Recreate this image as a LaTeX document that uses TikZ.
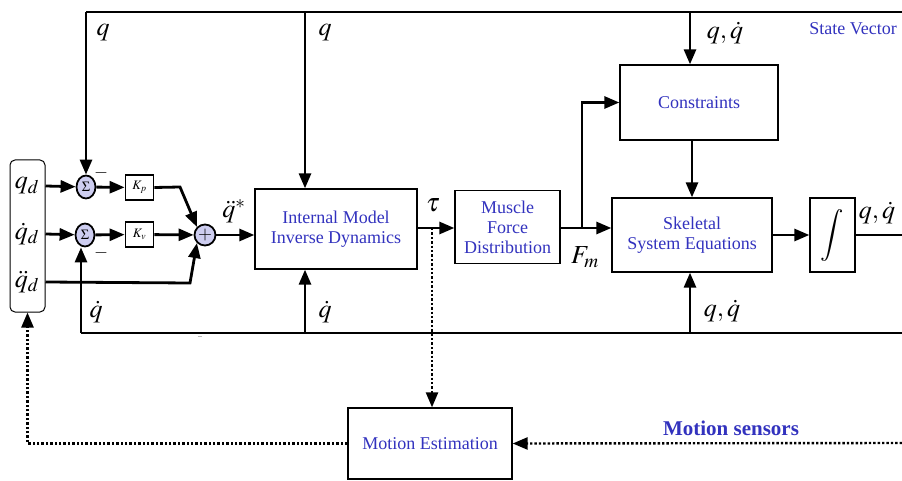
\documentclass[tikz,border=0pt]{standalone}
\usepackage{mathptmx}
\usepackage{fontspec}
\setmainfont{Liberation Serif}
\usetikzlibrary{arrows.meta, shapes.geometric, positioning, calc}
\definecolor{myblue}{RGB}{50,50,190}
\definecolor{mysum}{RGB}{205,205,240}

\begin{document}
\begin{tikzpicture}[x=1pt, y=-1pt, >={Triangle[length=15pt,width=12pt]},
  blk/.style={draw, line width=1.3pt, align=center, text=myblue, inner sep=0pt, font=\fontsize{18}{20}\selectfont},
  sumnode/.style={draw, ellipse, fill=mysum, line width=1.8pt, minimum width=19pt, minimum height=23pt, inner sep=0pt, font=\fontsize{14}{14}\selectfont},
  gain/.style={draw, line width=1.8pt, minimum width=28pt, minimum height=25pt, inner sep=0pt, font=\fontsize{13}{13}\selectfont},
  sig/.style={line width=2.8pt},
  est/.style={line width=2.4pt, dotted},
  lbl/.style={font=\fontsize{26}{28}\selectfont},
  minus/.style={font=\fontsize{18}{18}\selectfont}]
\useasboundingbox (0,0) rectangle (902,481);

% desired trajectory
\node[draw, line width=1pt, rounded corners=5pt, minimum width=35pt, minimum height=152pt] (des) at (27.5,236) {};
\node[lbl] (qd) at (27,186) {$q_d$};
\node[lbl] (qdd) at (27,234) {$\dot q_d$};
\node[lbl] (qddd) at (27,282) {$\ddot q_d$};

% PD controller
\node[sumnode] (s1) at (86,187) {$\Sigma$};
\node[sumnode] (s2) at (85,235) {$\Sigma$};
\node[gain] (kp) at (139.5,187.5) {$K_p$};
\node[gain] (kv) at (139.5,234.5) {$K_v$};
\node[draw, circle, fill=mysum, line width=1.8pt, minimum size=21pt, inner sep=0pt, font=\fontsize{18}{18}\selectfont] (plus) at (205,235) {$+$};

% blocks
\node[blk, minimum width=162pt, minimum height=80pt] (imid) at (336,229) {Internal Model\\Inverse Dynamics};
\node[blk, minimum width=105pt, minimum height=73pt] (mfd) at (507.5,227) {Muscle\\Force\\Distribution};
\node[blk, minimum width=158pt, minimum height=75pt] (cons) at (699,102.5) {Constraints};
\node[blk, minimum width=160pt, minimum height=74pt] (skel) at (692,235) {Skeletal\\System Equations};
\node[blk, text=black, minimum width=45pt, minimum height=74pt, font=\fontsize{26}{28}\selectfont] (integ) at (832.5,235) {$\displaystyle\int$};
\node[blk, minimum width=164pt, minimum height=71pt] (mest) at (430,443.5) {Motion Estimation};

% branch points
\coordinate (t1) at (86,12);
\coordinate (t2) at (305,12);
\coordinate (t3) at (690,12);
\coordinate (tend) at (902,12);
\coordinate (b1) at (81,333);
\coordinate (b2) at (305,333);
\coordinate (b3) at (690,333);
\coordinate (bend) at (902,333);
\coordinate (tau) at (432,228);
\coordinate (fm) at (582,228);
\coordinate (sens) at (902,443);

% signal flow
\draw[sig,->] (qd -| des.east) -- (s1);
\draw[sig,->] (qdd -| des.east) -- (s2);
\draw[sig,->] (s1) -- (kp);
\draw[sig,->] (s2) -- (kv);
\draw[sig,->] (kp.east) -- (180,187) -- (plus.north west);
\draw[sig,->] (kv) -- (plus);
\draw[sig,->] (qddd -| des.east) -- (190,283) -- (plus.south west);
\draw[sig,->] (plus) -- (plus -| imid.west);
\draw[sig,->] (tau -| imid.east) -- (tau -| mfd.west);
\draw[sig,->] (fm -| mfd.east) -- (fm -| skel.west);
\draw[sig,->] (fm) |- (cons.west);
\draw[sig,->] (cons.south -| skel.north) -- (skel.north);
\draw[sig,->] (skel.east |- integ) -- (integ.west);
\draw[sig] (integ.east) -- (integ.east -| bend);

% feedback
\draw[sig] (t1) -- (tend);
\draw[sig,->] (t1) -- (s1);
\draw[sig,->] (t2) -- (t2 |- imid.north);
\draw[sig,->] (t3) -- (t3 |- cons.north);
\draw[sig] (b1) -- (bend);
\draw[sig,->] (b1) -- (s2.south -| b1);
\draw[sig,->] (b2) -- (b2 |- imid.south);
\draw[sig,->] (b3) -- (b3 |- skel.south);

% estimation
\draw[est,->] (tau) -- (tau |- mest.north);
\draw[est,->] (sens) -- (mest.east);
\draw[est,->] (mest.west) -| (des.south);

% labels
\node[lbl] (lq1) at (103,33) {$q$};
\node[lbl] (lq2) at (325,33) {$q$};
\node[lbl] (lq3) at (725,33) {$q,\dot q$};
\node[lbl] (lq4) at (877,213) {$q,\dot q$};
\node[lbl] (lq5) at (96,312) {$\dot q$};
\node[lbl] (lq6) at (325,312) {$\dot q$};
\node[lbl] (lq7) at (722,311) {$q,\dot q$};
\node[lbl] (lacc) at (234,211) {$\ddot q^{*}$};
\node[lbl] (ltau) at (433,205) {$\tau$};
\node[lbl] (lfm) at (585,257) {$F_m$};
\node[minus] (m1) at (101,173) {$-$};
\node[minus] (m2) at (101,253) {$-$};
\node[font=\scriptsize] (m3) at (200,337) {$-$};
\node[text=myblue, font=\fontsize{18}{20}\selectfont] (lsv) at (853,29) {State Vector};
\node[text=myblue, font=\fontsize{21}{24}\selectfont\bfseries] (lms) at (731,428) {Motion sensors};
\end{tikzpicture}
\end{document}
